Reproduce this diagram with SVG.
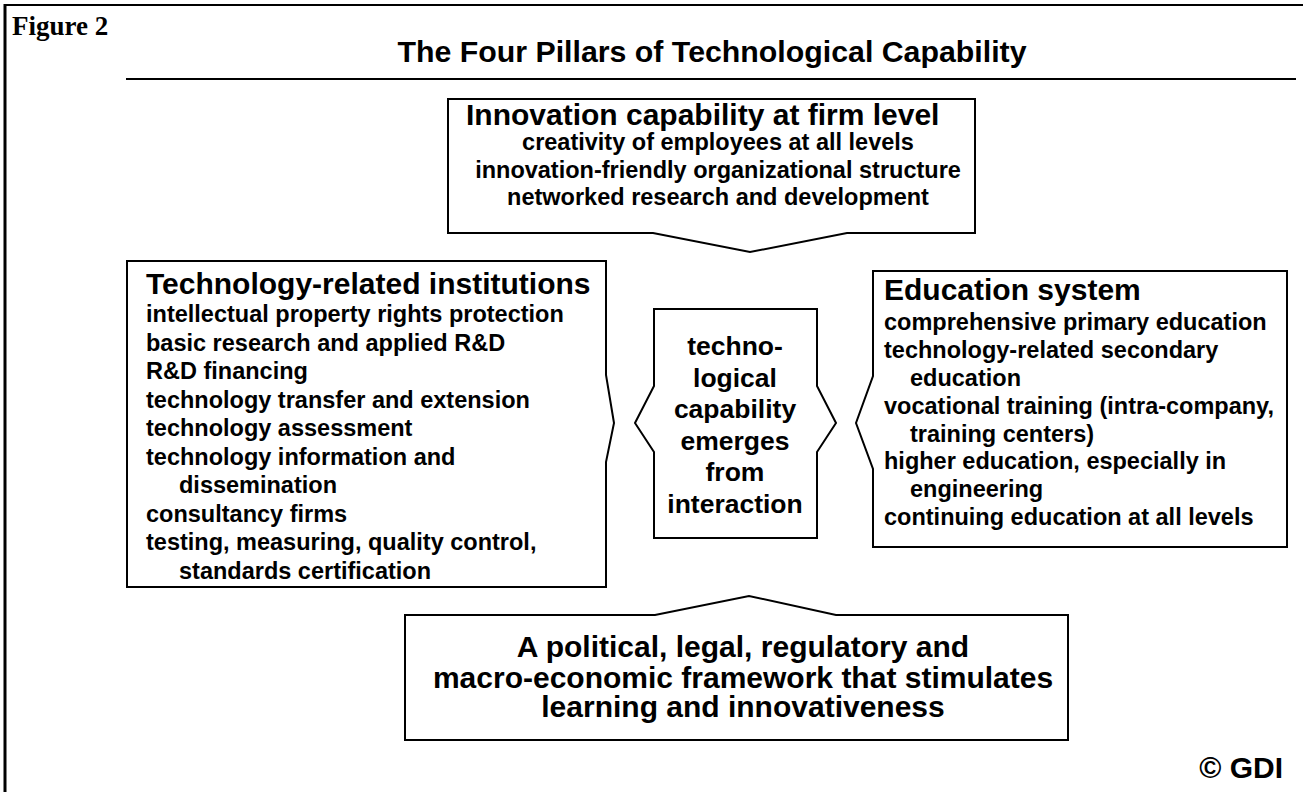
<svg xmlns="http://www.w3.org/2000/svg" width="1303" height="792" viewBox="0 0 1303 792">
  <style>
    .frame { stroke: #000; fill: none; }
    .box { fill: #fff; stroke: #000; stroke-width: 2; stroke-linejoin: miter; }
    text { font-family: "Liberation Sans", Arial, sans-serif; font-weight: bold; fill: #000; }
    .fig { font-family: "Liberation Serif", "Times New Roman", serif; font-size: 27px; }
    .title { font-size: 30.3px; text-anchor: middle; }
    .head { font-size: 30px; }
    .item { font-size: 23.5px; }
    .mid { text-anchor: middle; }
    .hub { font-size: 26.5px; text-anchor: middle; }
    .base { font-size: 30px; text-anchor: middle; }
    .copy { font-size: 30px; text-anchor: end; }
  </style>

  <!-- page frame and heading -->
  <g id="frame">
    <line class="frame" x1="5" y1="4" x2="5" y2="792" stroke-width="3"/>
    <line class="frame" x1="4" y1="5" x2="1303" y2="5" stroke-width="2"/>
    <text class="fig" x="12" y="35">Figure 2</text>
    <text class="title" x="712" y="62">The Four Pillars of Technological Capability</text>
    <line class="frame" x1="126" y1="79" x2="1296" y2="79" stroke-width="2"/>
  </g>

  <!-- pillar: firm-level innovation (points down to the hub) -->
  <g id="firm">
    <path class="box" d="M448 99 H975 V233 H847 L750 252 L653 233 H448 Z"/>
    <text class="head" x="466" y="125">Innovation capability at firm level</text>
    <text class="item mid" x="718" y="150">creativity of employees at all levels</text>
    <text class="item mid" x="718" y="178">innovation-friendly organizational structure</text>
    <text class="item mid" x="718" y="205">networked research and development</text>
  </g>

  <!-- pillar: technology-related institutions (points right) -->
  <g id="institutions">
    <path class="box" d="M127 261 H606 V375 L614 423 L606 462 V587 H127 Z"/>
    <text class="head" x="146" y="294">Technology-related institutions</text>
    <text class="item" x="146" y="322">intellectual property rights protection</text>
    <text class="item" x="146" y="350.5">basic research and applied R&amp;D</text>
    <text class="item" x="146" y="379">R&amp;D financing</text>
    <text class="item" x="146" y="407.5">technology transfer and extension</text>
    <text class="item" x="146" y="436">technology assessment</text>
    <text class="item" x="146" y="464.5">technology information and</text>
    <text class="item" x="179" y="493">dissemination</text>
    <text class="item" x="146" y="521.5">consultancy firms</text>
    <text class="item" x="146" y="550">testing, measuring, quality control,</text>
    <text class="item" x="179" y="578.5">standards certification</text>
  </g>

  <!-- hub: capability emerges from interaction (points both ways) -->
  <g id="hub">
    <path class="box" d="M654 309 H817 V386 L836 423 L817 452 V538 H654 V452 L635 423 L654 386 Z"/>
    <text class="hub" x="735" y="355">techno-</text>
    <text class="hub" x="735" y="386.5">logical</text>
    <text class="hub" x="735" y="418">capability</text>
    <text class="hub" x="735" y="449.5">emerges</text>
    <text class="hub" x="735" y="481">from</text>
    <text class="hub" x="735" y="512.5">interaction</text>
  </g>

  <!-- pillar: education system (points left) -->
  <g id="education">
    <path class="box" d="M873 271 H1287 V547 H873 V469 L856 423 L873 376 Z"/>
    <text class="head" x="884" y="300">Education system</text>
    <text class="item" x="884" y="330">comprehensive primary education</text>
    <text class="item" x="884" y="358">technology-related secondary</text>
    <text class="item" x="910" y="386">education</text>
    <text class="item" x="884" y="413.5">vocational training (intra-company,</text>
    <text class="item" x="910" y="441.5">training centers)</text>
    <text class="item" x="884" y="469">higher education, especially in</text>
    <text class="item" x="910" y="497">engineering</text>
    <text class="item" x="884" y="525">continuing education at all levels</text>
  </g>

  <!-- pillar: framework conditions (points up) -->
  <g id="framework">
    <path class="box" d="M405 615 H655 L749 596 L836 615 H1068 V740 H405 Z"/>
    <text class="base" x="743" y="657">A political, legal, regulatory and</text>
    <text class="base" x="743" y="687.5">macro-economic framework that stimulates</text>
    <text class="base" x="743" y="717">learning and innovativeness</text>
  </g>

  <g id="credit">
    <text class="copy" x="1283" y="778">© GDI</text>
  </g>
</svg>
